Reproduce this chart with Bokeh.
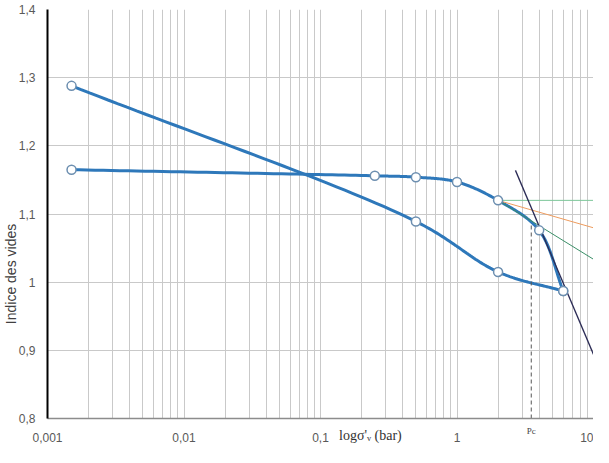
import math
import numpy as np
from bokeh.plotting import figure
from bokeh.models import FixedTicker, Range1d, LogAxis, LinearAxis
from bokeh.embed import file_html
from bokeh.resources import INLINE

# ---- data ----
load_p = [0.0015, 0.25, 0.5, 1, 2, 4, 6]
load_e = [1.165, 1.156, 1.154, 1.147, 1.120, 1.076, 0.987]
unload_p = [6, 2, 0.5, 0.0015]
unload_e = [0.987, 1.015, 1.089, 1.288]

# construction lines (Casagrande)
pc = 3.5
steep_p = [2.68, 10.5]
steep_e = [1.164, 0.884]
horiz_p = [2, 10.5]
horiz_e = [1.120, 1.120]
tang_p = [2, 10.3]
tang_e = [1.120, 1.032]
bis_p = [2, 10.3]
bis_e = [1.120, 1.079]
pc_e = [0.8, 1.085]

x_ticks = [0.001, 0.01, 0.1, 1, 10]
x_tick_labels = ["0,001", "0,01", "0,1", "1", "10"]
y_ticks = [0.8, 0.9, 1.0, 1.1, 1.2, 1.3, 1.4]
y_tick_labels = ["0,8", "0,9", "1", "1,1", "1,2", "1,3", "1,4"]

x_title = "logσ'ᵥ (bar)"
x_title_pos = 0.232
y_title = "Indice des vides"
y_title_pos = 1.012

SX, SY = 136.5, 682.0  # approx screen scale used only for smoothing shape


def smooth(xs, ys, n=40, alpha=0.5):
    pts = [np.array([math.log10(a) * SX, b * SY]) for a, b in zip(xs, ys)]
    P = [2 * pts[0] - pts[1]] + pts + [2 * pts[-1] - pts[-2]]
    out = []
    for i in range(1, len(P) - 2):
        p0, p1, p2, p3 = P[i - 1], P[i], P[i + 1], P[i + 2]
        t0 = 0.0
        t1 = t0 + np.linalg.norm(p1 - p0) ** alpha
        t2 = t1 + np.linalg.norm(p2 - p1) ** alpha
        t3 = t2 + np.linalg.norm(p3 - p2) ** alpha
        for t in np.linspace(t1, t2, n, endpoint=(i == len(P) - 3)):
            a1 = (t1 - t) / (t1 - t0) * p0 + (t - t0) / (t1 - t0) * p1
            a2 = (t2 - t) / (t2 - t1) * p1 + (t - t1) / (t2 - t1) * p2
            a3 = (t3 - t) / (t3 - t2) * p2 + (t - t2) / (t3 - t2) * p3
            b1 = (t2 - t) / (t2 - t0) * a1 + (t - t0) / (t2 - t0) * a2
            b2 = (t3 - t) / (t3 - t1) * a2 + (t - t1) / (t3 - t1) * a3
            c = (t2 - t) / (t2 - t1) * b1 + (t - t1) / (t2 - t1) * b2
            out.append(c)
    ox = [10 ** (c[0] / SX) for c in out]
    oy = [c[1] / SY for c in out]
    return ox, oy


p = figure(width=593, height=447, x_axis_type="log",
           x_range=Range1d(0.001, 10), y_range=Range1d(0.8, 1.4),
           output_backend="svg", toolbar_location=None,
           min_border_left=47, min_border_right=0, min_border_top=9, min_border_bottom=29)
p.outline_line_color = None
p.background_fill_color = "white"

# grids
minor = []
for d in [0.001, 0.01, 0.1, 1]:
    for k in range(1, 10):
        minor.append(round(d * k, 6))
minor.append(10)
p.xgrid.ticker = FixedTicker(ticks=minor)
p.xgrid.grid_line_color = "#c9c9c9"
p.xgrid.grid_line_width = 1
p.ygrid.ticker = FixedTicker(ticks=y_ticks)
p.ygrid.grid_line_color = "#c9c9c9"
p.ygrid.grid_line_width = 1


def plain(ax):
    ax.major_tick_line_color = None
    ax.minor_tick_line_color = None
    ax.major_tick_in = 0
    ax.major_tick_out = 0
    ax.minor_tick_in = 0
    ax.minor_tick_out = 0


# axes
p.xaxis.ticker = FixedTicker(ticks=x_ticks)
p.xaxis.major_label_overrides = dict(zip(x_ticks, x_tick_labels))
p.yaxis.ticker = FixedTicker(ticks=y_ticks)
p.yaxis.major_label_overrides = dict(zip(y_ticks, y_tick_labels))
for ax in (p.xaxis[0], p.yaxis[0]):
    plain(ax)
    ax.major_label_text_font = "Liberation Sans"
    ax.major_label_text_font_size = "12px"
    ax.major_label_text_color = "#595959"
p.yaxis.axis_line_color = "black"
p.yaxis.axis_line_width = 2
p.yaxis.major_label_standoff = 12
p.xaxis.axis_line_color = "#8c8c8c"
p.xaxis.axis_line_width = 1.5
p.xaxis.major_label_standoff = 14

# title-like labels placed as extra axes (no line, one tick each)
xt = LogAxis(ticker=FixedTicker(ticks=[x_title_pos]),
             major_label_overrides={x_title_pos: x_title})
plain(xt)
xt.axis_line_color = None
xt.major_label_standoff = -17
xt.major_label_text_font = "Liberation Serif"
xt.major_label_text_font_size = "14px"
xt.major_label_text_color = "#333333"
p.add_layout(xt, "below")

pt = LogAxis(ticker=FixedTicker(ticks=[pc]), major_label_overrides={pc: "Pc"})
plain(pt)
pt.axis_line_color = None
pt.major_label_standoff = -20
pt.major_label_text_font = "Liberation Serif"
pt.major_label_text_font_size = "9px"
pt.major_label_text_color = "#444444"
p.add_layout(pt, "below")

yt = LinearAxis(ticker=FixedTicker(ticks=[y_title_pos]),
                major_label_overrides={y_title_pos: y_title})
plain(yt)
yt.axis_line_color = None
yt.major_label_orientation = "vertical"
yt.major_label_standoff = -4
yt.major_label_text_font = "Liberation Sans"
yt.major_label_text_font_size = "14px"
yt.major_label_text_color = "#404040"
p.add_layout(yt, "left")

# curves
lx, ly = smooth(load_p, load_e)
ux, uy = smooth(unload_p, unload_e)
p.line(lx, ly, line_color="#2E78BA", line_width=3)
p.line(ux, uy, line_color="#2E78BA", line_width=3)

# construction lines
p.line(horiz_p, horiz_e, line_color="#7cc79a", line_width=1)
p.line(bis_p, bis_e, line_color="#ee9c5e", line_width=1)
p.line(tang_p, tang_e, line_color="#3b8f68", line_width=1)
p.line(steep_p, steep_e, line_color="#2b2b55", line_width=1.3)
p.line([pc, pc], pc_e, line_color="#555555", line_width=1, line_dash="4 3")

# markers
p.scatter(load_p, load_e, marker="circle", size=9, fill_color="white",
          line_color="#6d8fb0", line_width=1.5)
p.scatter(unload_p, unload_e, marker="circle", size=9, fill_color="white",
          line_color="#6d8fb0", line_width=1.5)

open("out.html", "w").write(file_html(p, INLINE))
